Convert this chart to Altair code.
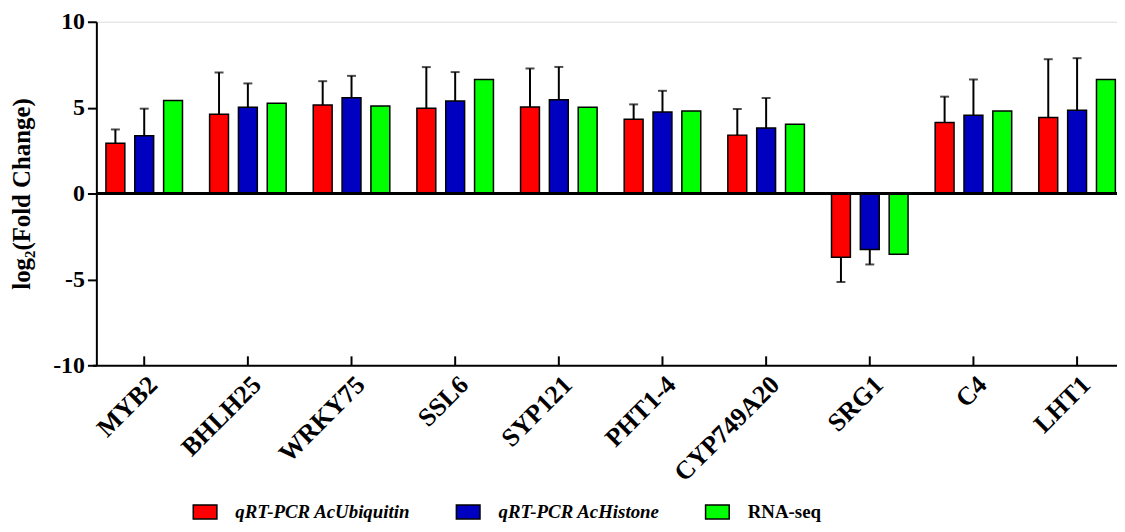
import altair as alt
import pandas as pd

genes = ["MYB2", "BHLH25", "WRKY75", "SSL6", "SYP121", "PHT1-4", "CYP749A20", "SRG1", "C4", "LHT1"]
series = ["qRT-PCR AcUbiquitin", "qRT-PCR AcHistone", "RNA-seq"]
colors = ["#FF0000", "#0000C0", "#00FF00"]

ubi = [2.93, 4.61, 5.15, 4.96, 5.04, 4.32, 3.40, -3.71, 4.13, 4.42]
ubi_sd = [0.80, 2.44, 1.39, 2.40, 2.24, 0.87, 1.52, 1.44, 1.51, 3.40]
his = [3.36, 5.02, 5.58, 5.39, 5.46, 4.75, 3.82, -3.26, 4.56, 4.85]
his_sd = [1.58, 1.39, 1.27, 1.68, 1.91, 1.23, 1.74, 0.87, 2.08, 3.03]
rna = [5.41, 5.25, 5.10, 6.64, 5.02, 4.81, 4.03, -3.53, 4.81, 6.64]

rows = []
for vals, sds, s in [(ubi, ubi_sd, series[0]), (his, his_sd, series[1]), (rna, None, series[2])]:
    for i, g in enumerate(genes):
        v = vals[i]
        rec = {"gene": g, "series": s, "value": v}
        if sds is not None:
            sign = 1 if v >= 0 else -1
            rec["end"] = v + sign * sds[i]
        rows.append(rec)
df = pd.DataFrame(rows)
err_df = df.dropna(subset=["end"])

FONT = "Liberation Serif"

xscale = alt.Scale(domain=genes, range=[-4, 1040], paddingInner=0, paddingOuter=0)
xoff_scale = alt.Scale(domain=series, paddingInner=0.345, paddingOuter=0.47)
yscale = alt.Scale(domain=[-10, 10], nice=False, zero=False)

x_enc = alt.X("gene:N", scale=xscale, sort=genes,
              axis=alt.Axis(title=None, labelAngle=-45, labelAlign="right", labelBaseline="top",
                            labelPadding=6, labelFont=FONT, labelFontSize=26, labelFontWeight="bold",
                            labelColor="black", ticks=False, domainColor="black", domainWidth=2,
                            labelOverlap=False, labelLimit=300))
y_enc = alt.Y("value:Q", scale=yscale,
              axis=alt.Axis(title="log₂(Fold Change)", values=[-10, -5, 0, 5, 10], grid=False,
                            labelExpr="'' + datum.value",
                            labelFont=FONT, labelFontSize=24, labelFontWeight="bold", labelColor="black",
                            labelPadding=3, tickSize=9, tickWidth=2, tickColor="black",
                            domainColor="black", domainWidth=2,
                            titleFont=FONT, titleFontSize=25, titleFontWeight="bold", titleColor="black",
                            titleX=-75, titleY=173, titleAngle=270, titleAlign="center",
                            titleBaseline="middle"))

bars = alt.Chart(df).mark_bar(stroke="black", strokeWidth=1.5).encode(
    x=x_enc,
    xOffset=alt.XOffset("series:N", scale=xoff_scale, sort=series),
    y=y_enc,
    y2=alt.datum(0),
    color=alt.Color("series:N", scale=alt.Scale(domain=series, range=colors), sort=series,
                    legend=alt.Legend(title=None, orient="none", legendX=100, legendY=484,
                                      direction="horizontal", padding=0,
                                      symbolType="M-1.7,-1H1.7V1H-1.7Z", symbolSize=196,
                                      symbolStrokeColor="black", symbolStrokeWidth=1.5,
                                      symbolOpacity=1,
                                      labelFont=FONT, labelFontSize=19, labelFontWeight="bold",
                                      labelFontStyle=alt.ExprRef("datum.label == 'RNA-seq' ? 'normal' : 'italic'"),
                                      labelColor="black", labelOffset=21, columnPadding=42,
                                      labelLimit=400)),
)

err_line = alt.Chart(err_df).mark_rule(color="black", strokeWidth=2).encode(
    x=alt.X("gene:N", scale=xscale, sort=genes),
    xOffset=alt.XOffset("series:N", scale=xoff_scale, sort=series),
    y=alt.Y("value:Q", scale=yscale),
    y2=alt.Y2("end:Q"),
)
err_cap = alt.Chart(err_df).mark_tick(color="black", thickness=2, size=9, orient="horizontal").encode(
    x=alt.X("gene:N", scale=xscale, sort=genes),
    xOffset=alt.XOffset("series:N", scale=xoff_scale, sort=series),
    y=alt.Y("end:Q", scale=yscale),
)

zero = alt.Chart(df).mark_rule(color="black", strokeWidth=1.5).encode(y=alt.datum(0))

xticks = alt.Chart(pd.DataFrame({"gene": genes})).mark_rule(color="black", strokeWidth=2).encode(
    x=alt.X("gene:N", scale=xscale, sort=genes),
    y=alt.datum(-10),
    y2=alt.value(337),
)

chart = alt.layer(bars, zero, err_line, err_cap, xticks).properties(
    width=1028, height=346,
    autosize=alt.AutoSizeParams(type="none"),
    padding={"left": 89, "top": 12, "right": 0, "bottom": 158},
).configure_view(stroke=None).configure(background="white")

chart.save("out.html", embed_options={"renderer": "svg", "actions": False})
